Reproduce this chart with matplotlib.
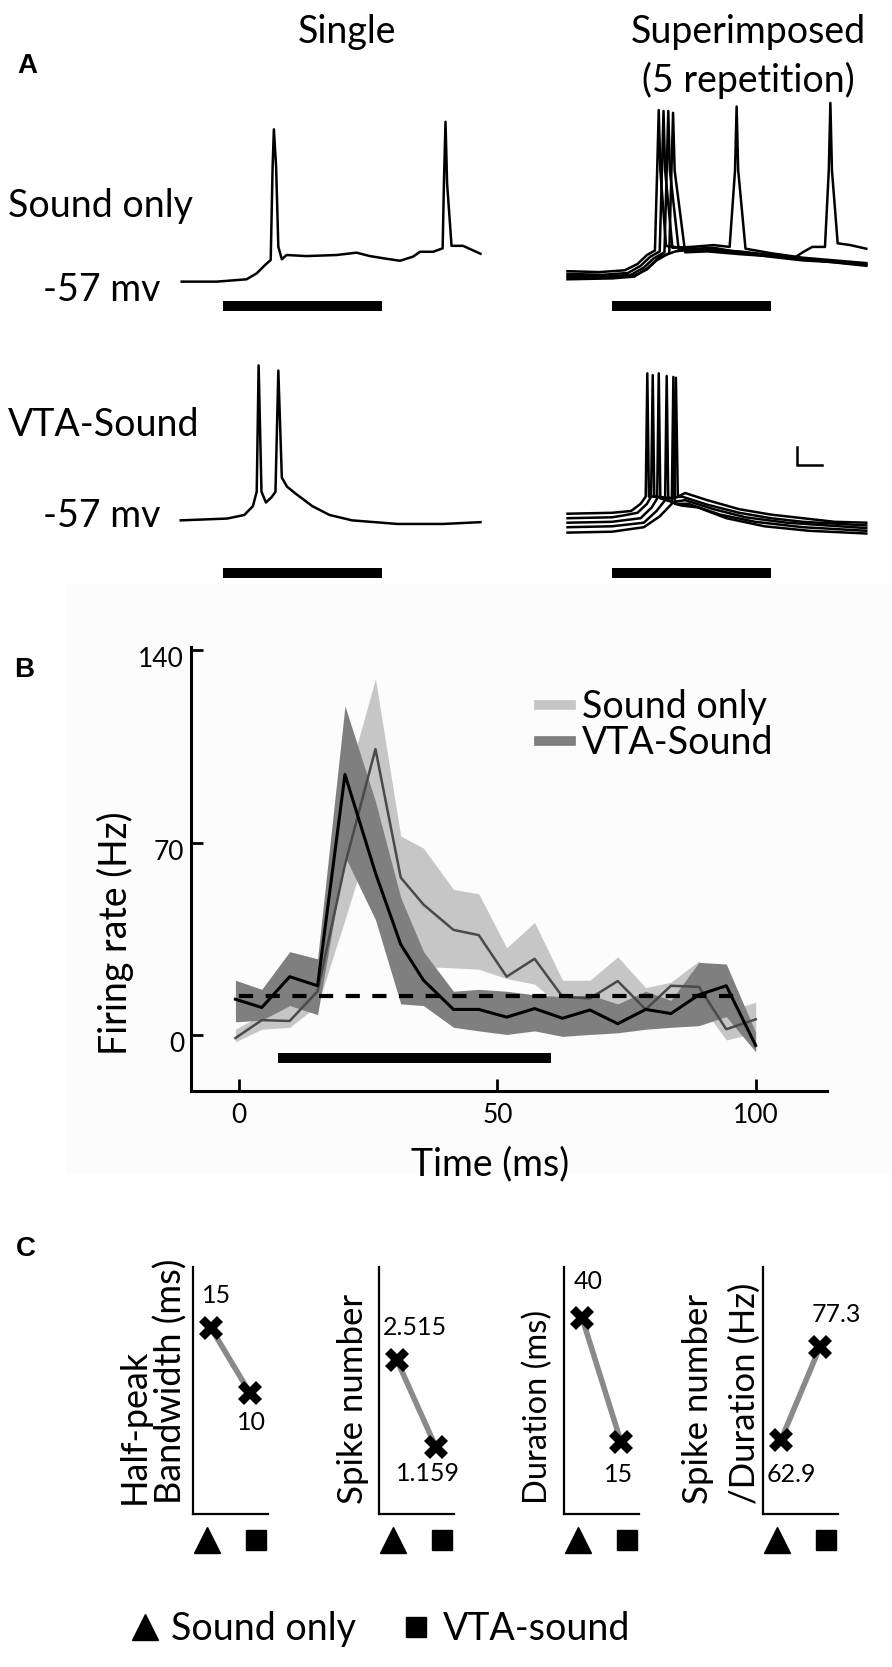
import matplotlib
matplotlib.use('Agg')
import matplotlib.pyplot as plt
import matplotlib.transforms as mtransforms
from matplotlib.lines import Line2D
from matplotlib.patches import Rectangle

plt.rcParams['font.family'] = ['Lato', 'DejaVu Sans']

# ---------------- data ----------------
# panel A: membrane potential traces (time in ms from sound onset, mV)
stim_on, stim_off = 0, 50
scale_ms, scale_mv = 8, 10

sound_single_t = [-13, -2, 7.4, 10.6, 13.2, 15, 15.6, 16.0, 16.7, 17.4, 18.5, 20, 26.3, 35.8, 42,
                  46.2, 50.4, 55.7, 59.8, 62, 66.1, 69.1, 69.5, 70, 70.5, 71.9, 75.5, 81]
sound_single_v = [-56.8, -56.8, -55.5, -52.2, -47.6, -44.8, 7, 27.8, 7, -37.4, -44.4, -42, -42.6, -42, -40.7,
                  -42.6, -43.8, -45.2, -42.9, -40.2, -40.2, -38.3, -2.2, 32, -2.2, -36.9, -36.9, -41.3]

sound_rep1_t = [-14, -4, 4, 8, 11, 13.5, 14.2, 14.7, 15.2, 17, 22, 30, 40, 50, 57, 60, 63, 67,
                68.2, 68.7, 69.2, 71, 75, 80]
sound_rep1_v = [-51, -51.5, -50.5, -47, -42, -39.5, 5, 38.5, 5, -37, -38, -39, -40, -42, -44, -40.5, -37.5, -37.5,
                5, 42.5, 5, -35.5, -36.5, -38.5]
sound_rep2_t = [-14, -3, 5, 9, 12, 15, 15.7, 16.2, 16.7, 19, 25, 32, 37, 38.7, 39.2, 39.7, 42, 50, 60, 70, 80]
sound_rep2_v = [-52.5, -53, -52, -48, -43, -40, 5, 38, 5, -38, -37.5, -36.5, -37.5, 5, 40.5, 5, -38.5, -41,
                -43.5, -45, -46.5]
sound_rep3_t = [-14, -2, 6, 10, 13, 16.5, 17.2, 17.7, 18.2, 21, 28, 38, 48, 58, 68, 80]
sound_rep3_v = [-53.5, -54, -53, -49, -44, -40.5, 5, 38, 5, -39.5, -39, -40.5, -42, -44, -45.5, -47]
sound_rep4_t = [-14, -1, 7, 11, 14, 18, 18.7, 19.2, 19.7, 23, 30, 40, 52, 64, 80]
sound_rep4_v = [-54.5, -54.5, -53.5, -50, -45, -41, 5, 37, 5, -40.5, -40, -41.5, -43, -45, -48]
sound_rep5_t = [-14, 0, 7, 11, 15, 20, 26, 32, 40, 50, 60, 70, 80]
sound_rep5_v = [-55.5, -55, -54, -49.5, -43, -40, -38.5, -38, -40.5, -43, -45, -46, -47.5]

vta_single_t = [-13.3, 1.3, 6.7, 9.4, 10.6, 11.2, 12.1, 13.5, 15.3, 16.5, 17.4, 18.5, 20.1, 22.8, 28.1,
                33.5, 40.6, 54.9, 69.2, 81]
vta_single_v = [-57.2, -56.2, -54.2, -49.3, -41.3, 28.9, -41.3, -47.3, -44.3, -41.3, 26, -33.4, -38.4, -42.3,
                -49.3, -54.2, -57.2, -59.2, -59.2, -58.2]

vta_rep1_t = [-14, 0, 6, 9, 10.6, 11.1, 11.6, 14, 19.5, 20.1, 20.7, 23, 30, 40, 50, 60, 70, 80]
vta_rep1_v = [-53.5, -53, -52, -48, -44, 24.5, -44, -44, -45, 22, -44, -42, -46, -51, -54, -56, -58, -58.5]
vta_rep2_t = [-14, 0, 3.5, 8, 11, 12.3, 12.8, 13.3, 17, 22, 30, 40, 50, 60, 80]
vta_rep2_v = [-56, -55.5, -54.5, -53, -48, -44, 23.5, -44, -45, -44, -48.5, -53, -56, -58, -60]
vta_rep3_t = [-14, 0, 9, 12.5, 14.2, 14.7, 15.2, 19, 23, 32, 42, 55, 80]
vta_rep3_v = [-58.5, -58, -56, -50, -45, 24.5, -45, -47, -46, -51, -55.5, -58.5, -61.5]
vta_rep4_t = [-14, 0, 10, 14, 16.7, 17.2, 17.7, 20, 24, 34, 45, 60, 80]
vta_rep4_v = [-61, -60.5, -58.5, -52, -46, 23, -46, -48, -48, -54, -58, -61, -63]
vta_rep5_t = [-14, 0, 10, 15, 18.8, 19.3, 19.8, 22, 27, 36, 48, 62, 80]
vta_rep5_v = [-64, -63.5, -61, -55, -48, 22.5, -48, -49, -50, -56, -60.5, -63, -64.5]

# panel B: PSTH (ms, Hz)
psth_t = [-0.7, 4.4, 9.8, 15.2, 20.5, 26.4, 31.3, 35.7, 41.5, 46.4, 51.8, 57.2, 62.6, 67.9, 73.3,
          78.7, 83.6, 89.0, 94.3, 100.0]
sound_mean = [-1, 5.5, 5.2, 16, 62, 104, 57.3, 47.5, 38.3, 36.4, 21.3, 27.8, 14, 13.4, 19.7,
              9.4, 18, 17.6, 2.2, 5.8]
sound_lo = [-2.4, 2.2, 2.9, 10.8, 42, 78, 40, 25, 24.5, 24, 20.6, 18.6, 10, 12, 9.4,
            4.2, 10.8, 12, -1.7, 0.9]
sound_hi = [2.2, 7.5, 10.8, 18.6, 90, 129.5, 72.4, 68, 53, 51.4, 31.8, 41, 20, 20, 28.5,
            17.3, 19.3, 27, 8.8, 12]
vta_mean = [13.1, 10.1, 21.3, 18.0, 94.8, 59, 33, 20, 9.4, 9.4, 6.6, 9.7, 6.2, 9.2, 4.2,
            9.4, 7.9, 14.7, 18, -3.7]
vta_lo = [4.9, 5.5, 10.8, 7.5, 65, 42, 11.4, 10.8, 2.9, 1.6, 0.3, 1.6, -0.4, 0.3, 0.9,
          2.2, 2.9, 3.5, 6.8, -6]
vta_hi = [20, 16.7, 30.4, 27.8, 119.7, 85, 50, 30.4, 16, 16.7, 16, 14.7, 14, 14.7, 11.4,
          16, 12.7, 26.5, 25.9, 1]
spont_rate = 14.4
spont_t = [0, 98]
psth_stim = [7.5, 60.3]

# panel C: summary values (Sound only, VTA-sound)
conditions = [1, 2]
halfpeak = [15, 10]
spike_number = [2.515, 1.159]
duration = [40, 15]
spike_rate = [62.9, 77.3]
c_labels = ['Half-peak\nBandwidth (ms)', 'Spike number', 'Duration (ms)', 'Spike number\n/Duration (Hz)']
c_texts = [['15', '10'], ['2.515', '1.159'], ['40', '15'], ['62.9', '77.3']]

# ---------------- layout helpers (pixel boxes) ----------------
W, H = 892, 1667
fig = plt.figure(figsize=(W / 100, H / 100), dpi=100)


def px_axes(left, top, right, bottom):
    return fig.add_axes([left / W, 1 - bottom / H, (right - left) / W, (bottom - top) / H])


def px_text(x, y, s, **kw):
    fig.text(x / W, 1 - y / H, s, **kw)


# faint background of the pasted panel B
fig.patches.append(Rectangle((67 / W, 1 - 1173 / H), 1 - 67 / W, (1173 - 585) / H,
                             transform=fig.transFigure, color='#fcfcfc', zorder=-5))

# ---------------- panel A ----------------
big = 27
px_text(27, 66, 'A', fontsize=20, fontweight='bold', family='Liberation Sans', ha='center', va='center')
px_text(347, 32, 'Single', fontsize=big, ha='center', va='center')
px_text(748, 32, 'Superimposed', fontsize=big, ha='center', va='center')
px_text(748, 80, '(5 repetition)', fontsize=big, ha='center', va='center')
px_text(8, 206, 'Sound only', fontsize=big, ha='left', va='center')
px_text(43, 290, '-57 mv', fontsize=big, ha='left', va='center')
px_text(8, 425, 'VTA-Sound', fontsize=big, ha='left', va='center')
px_text(43, 516, '-57 mv', fontsize=big, ha='left', va='center')

rows = [
    (98.4, 350.4, -70.3,
     [(sound_single_t, sound_single_v)],
     [(sound_rep1_t, sound_rep1_v), (sound_rep2_t, sound_rep2_v), (sound_rep3_t, sound_rep3_v),
      (sound_rep4_t, sound_rep4_v), (sound_rep5_t, sound_rep5_v)]),
    (336.4, 588.4, -86.4,
     [(vta_single_t, vta_single_v)],
     [(vta_rep1_t, vta_rep1_v), (vta_rep2_t, vta_rep2_v), (vta_rep3_t, vta_rep3_v),
      (vta_rep4_t, vta_rep4_v), (vta_rep5_t, vta_rep5_v)]),
]
trace_axes = []
for top, bottom, bar_y, single, reps in rows:
    for left, traces in [(169, single), (558, reps)]:
        ax = px_axes(left, top, left + 321, bottom)
        ax.set_xlim(-17, 84)
        ax.set_ylim(-95, 45)
        ax.axis('off')
        for t, v in traces:
            ax.plot(t, v, color='black', lw=1.8, solid_joinstyle='round')
        ax.plot([stim_on, stim_off], [bar_y, bar_y], color='black', lw=7.2, solid_capstyle='butt')
        trace_axes.append(ax)

# scale bar in the VTA superimposed panel
ax_sb = trace_axes[3]
ax_sb.plot([58.2, 58.2, 58.2 + scale_ms], [-26.4 + scale_mv, -26.4, -26.4], color='black', lw=1.8,
           solid_joinstyle='miter')

# ---------------- panel B ----------------
px_text(24, 670, 'B', fontsize=20, fontweight='bold', family='Liberation Sans', ha='center', va='center')
ax_b = px_axes(191, 647, 827, 1090.6)
ax_b.set_facecolor('none')
ax_b.fill_between(psth_t, sound_lo, sound_hi, color='#c6c6c6', lw=0)
ax_b.fill_between(psth_t, vta_lo, vta_hi, color='#7f7f7f', lw=0)
ax_b.plot(psth_t, sound_mean, color='#4a4a4a', lw=1.8)
ax_b.plot(psth_t, vta_mean, color='black', lw=2.2)
ax_b.plot(spont_t, [spont_rate, spont_rate], color='black', lw=3, ls=(0, (3.4, 3.0)))
ax_b.plot(psth_stim, [-8.3, -8.3], color='black', lw=7.2, solid_capstyle='butt')
ax_b.set_xlim(-9.3, 113.8)
ax_b.set_ylim(-20.1, 141.1)
ax_b.set_xticks([0, 50, 100])
ax_b.set_yticks([0, 70, 140])
ax_b.tick_params(direction='in', length=8.5, width=2, labelsize=19)
ax_b.tick_params(axis='x', pad=9)
ax_b.tick_params(axis='y', pad=5)
shift_down = mtransforms.ScaledTranslation(0, -7 / 100, fig.dpi_scale_trans)
for lab in ax_b.get_yticklabels():
    lab.set_transform(lab.get_transform() + shift_down)
for side in ['top', 'right']:
    ax_b.spines[side].set_visible(False)
for side in ['left', 'bottom']:
    ax_b.spines[side].set_linewidth(2.2)
ax_b.set_ylabel('Firing rate (Hz)', fontsize=big)
ax_b.yaxis.set_label_coords(-0.09, 0.355)
ax_b.set_xlabel('Time (ms)', fontsize=big)
ax_b.xaxis.set_label_coords(0.47, -0.125)
ax_b.legend(handles=[Line2D([], [], color='#c6c6c6', lw=7), Line2D([], [], color='#7f7f7f', lw=7)],
            labels=['Sound only', 'VTA-Sound'], loc='upper left', bbox_to_anchor=(0.547, 0.905),
            frameon=False, fontsize=big, borderpad=0, borderaxespad=0, handlelength=0.85,
            handletextpad=0.3, labelspacing=0.0)

# ---------------- panel C ----------------
px_text(26, 1249, 'C', fontsize=20, fontweight='bold', family='Liberation Sans', ha='center', va='center')
c_values = [halfpeak, spike_number, duration, spike_rate]
c_lefts = [193, 379, 564, 763]
c_ylims = [(0.7, 19.7), (0.12, 3.97), (0.5, 50.2), (51.4, 89.7)]
c_label_x = [-0.07, -0.13, -0.15, -0.03]
c_label_size = [26, 25, 23.5, 25]
c_label_spacing = [1.1, 1.2, 1.2, 1.55]
# offsets (px) of the value labels from their points: (first, second)
c_offsets = [[(6, 33), (1, -29)], [(18, 33), (-8, -26)], [(6, 36), (-2, -33)], [(10, -35), (16, 32)]]

for i in range(4):
    ax = px_axes(c_lefts[i], 1267, c_lefts[i] + 75, 1514)
    ax.set_facecolor('none')
    vals = c_values[i]
    ax.plot(conditions, vals, color='#8a8a8a', lw=4, zorder=1)
    ax.plot(conditions, vals, ls='none', marker='X', ms=17, color='black', mew=0, zorder=2)
    for j in range(2):
        dx, dy = c_offsets[i][j]
        ax.annotate(c_texts[i][j], (conditions[j], vals[j]), xytext=(dx * 0.72, dy * 0.72),
                    textcoords='offset points', ha='center', va='center', fontsize=18)
    ax.set_xlim(0.538, 2.462)
    ax.set_ylim(*c_ylims[i])
    ax.set_xticks([])
    ax.set_yticks([])
    for side in ['top', 'right']:
        ax.spines[side].set_visible(False)
    for side in ['left', 'bottom']:
        ax.spines[side].set_linewidth(1.6)
    ax.set_ylabel(c_labels[i], fontsize=c_label_size[i], loc='bottom', linespacing=c_label_spacing[i])
    ax.yaxis.set_label_coords(c_label_x[i], 0.04)
    # condition symbols under the axis
    tr = mtransforms.blended_transform_factory(ax.transData, ax.transAxes)
    ax.plot([conditions[0]], [-0.105], marker='^', ms=19, color='black', ls='none', clip_on=False,
            transform=mtransforms.offset_copy(tr, fig=fig, x=-4, units='dots'))
    ax.plot([conditions[1]], [-0.105], marker='s', ms=15, color='black', ls='none', clip_on=False,
            transform=mtransforms.offset_copy(tr, fig=fig, x=6, units='dots'))

fig.legend(handles=[Line2D([], [], marker='^', ms=19, color='black', ls='none'),
                    Line2D([], [], marker='s', ms=15, color='black', ls='none')],
           labels=['Sound only', 'VTA-sound'], loc='center', bbox_to_anchor=(380 / W, 1 - 1629 / H),
           ncol=2, frameon=False, fontsize=big, handlelength=0.8, handletextpad=0.3, columnspacing=1.2)

fig.savefig('out.png', dpi=100)
